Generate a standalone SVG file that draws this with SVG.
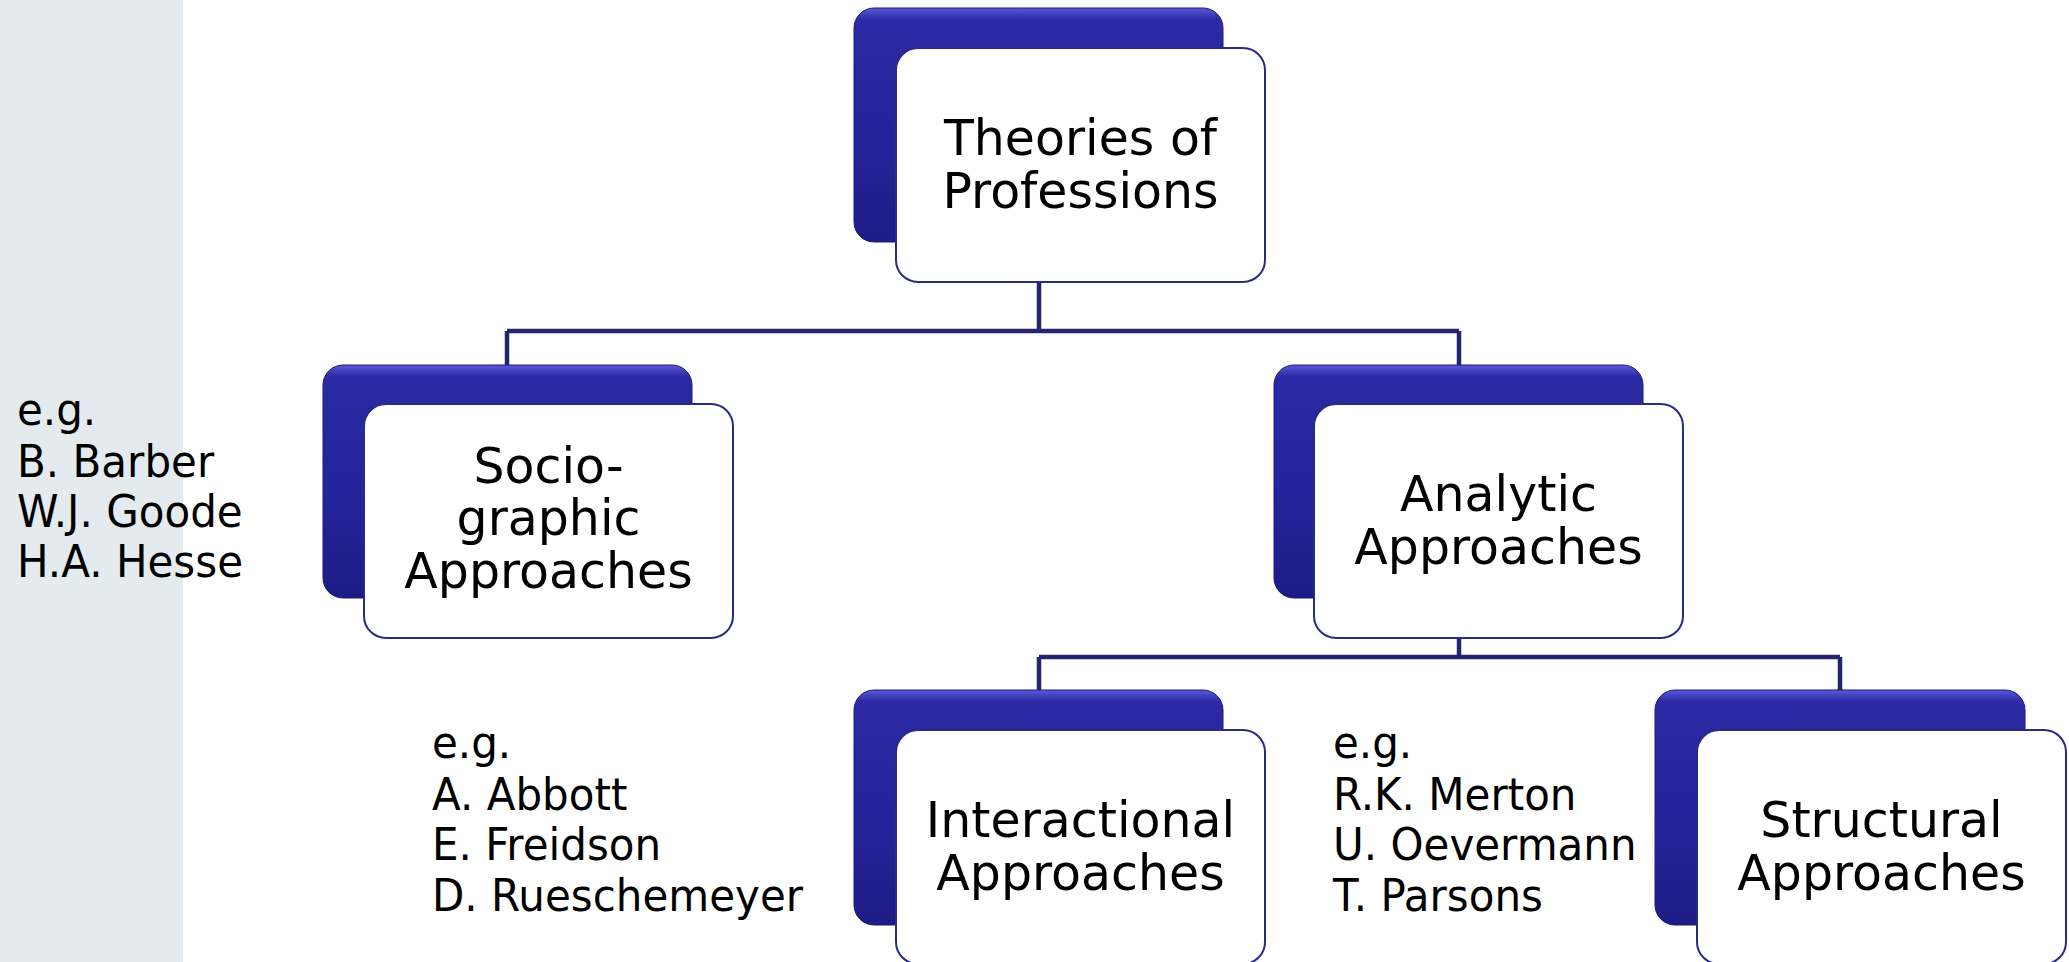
<svg xmlns="http://www.w3.org/2000/svg" width="2069" height="962" viewBox="0 0 2069 962">
<defs>
<linearGradient id="dk" x1="0" y1="0" x2="0" y2="1">
<stop offset="0" stop-color="#5a5ad6"/>
<stop offset="0.05" stop-color="#2b29a3"/>
<stop offset="0.6" stop-color="#25239a"/>
<stop offset="1" stop-color="#1d1c86"/>
</linearGradient>
<style>
.dark{fill:url(#dk);stroke:#1c1b7a;stroke-width:1}
.card{fill:#ffffff;stroke:#2b2b85;stroke-width:2}
.lbl{font-family:"DejaVu Sans","Verdana",sans-serif;font-size:50.5px;fill:#000;text-anchor:middle}
.eg{font-family:"DejaVu Sans","Verdana",sans-serif;font-size:44px;fill:#000}
.conn{fill:none;stroke:#25256f;stroke-width:4.5}
</style>
</defs>
<rect x="0" y="0" width="2069" height="962" fill="#ffffff"/>
<rect x="0" y="0" width="183" height="962" fill="#e3ebef"/>
<g id="connectors">
<path class="conn" d="M1039 282 V331 M507 331 H1459 M507 331 V365 M1459 331 V365"/>
<path class="conn" d="M1459 638 V657 M1039 657 H1840 M1039 657 V690 M1840 657 V690"/>
</g>
<g id="n-theories">
<rect class="dark" x="854" y="8" width="369" height="234" rx="20"/>
<rect class="card" x="896" y="48" width="369" height="234" rx="22"/>
<g transform="translate(1080.5 0) scale(0.97 1)">
<text class="lbl" x="0" y="155">Theories of</text>
<text class="lbl" x="0" y="208">Professions</text>
</g>
</g>
<g id="n-socio">
<rect class="dark" x="323" y="365" width="369" height="233" rx="20"/>
<rect class="card" x="364" y="404" width="369" height="234" rx="22"/>
<g transform="translate(548.5 0) scale(0.97 1)">
<text class="lbl" x="0" y="483">Socio-</text>
<text class="lbl" x="0" y="535">graphic</text>
<text class="lbl" x="0" y="588">Approaches</text>
</g>
</g>
<g id="n-analytic">
<rect class="dark" x="1274" y="365" width="369" height="233" rx="20"/>
<rect class="card" x="1314" y="404" width="369" height="234" rx="22"/>
<g transform="translate(1498.5 0) scale(0.97 1)">
<text class="lbl" x="0" y="511">Analytic</text>
<text class="lbl" x="0" y="564">Approaches</text>
</g>
</g>
<g id="n-interactional">
<rect class="dark" x="854" y="690" width="369" height="235" rx="20"/>
<rect class="card" x="896" y="730" width="369" height="234" rx="22"/>
<g transform="translate(1080.5 0) scale(0.97 1)">
<text class="lbl" x="0" y="837">Interactional</text>
<text class="lbl" x="0" y="890">Approaches</text>
</g>
</g>
<g id="n-structural">
<rect class="dark" x="1655" y="690" width="370" height="235" rx="20"/>
<rect class="card" x="1697" y="730" width="369" height="234" rx="22"/>
<g transform="translate(1881.5 0) scale(0.97 1)">
<text class="lbl" x="0" y="837">Structural</text>
<text class="lbl" x="0" y="890">Approaches</text>
</g>
</g>
<g id="eg-left" transform="translate(17 0) scale(0.955 1)">
<text class="eg" x="0" y="425">e.g.</text>
<text class="eg" x="0" y="477">B. Barber</text>
<text class="eg" x="0" y="527">W.J. Goode</text>
<text class="eg" x="0" y="577">H.A. Hesse</text>
</g>
<g id="eg-mid" transform="translate(432 0) scale(0.955 1)">
<text class="eg" x="0" y="758">e.g.</text>
<text class="eg" x="0" y="810">A. Abbott</text>
<text class="eg" x="0" y="860">E. Freidson</text>
<text class="eg" x="0" y="911">D. Rueschemeyer</text>
</g>
<g id="eg-right" transform="translate(1333 0) scale(0.955 1)">
<text class="eg" x="0" y="758">e.g.</text>
<text class="eg" x="0" y="810">R.K. Merton</text>
<text class="eg" x="0" y="860">U. Oevermann</text>
<text class="eg" x="0" y="911">T. Parsons</text>
</g>
</svg>
